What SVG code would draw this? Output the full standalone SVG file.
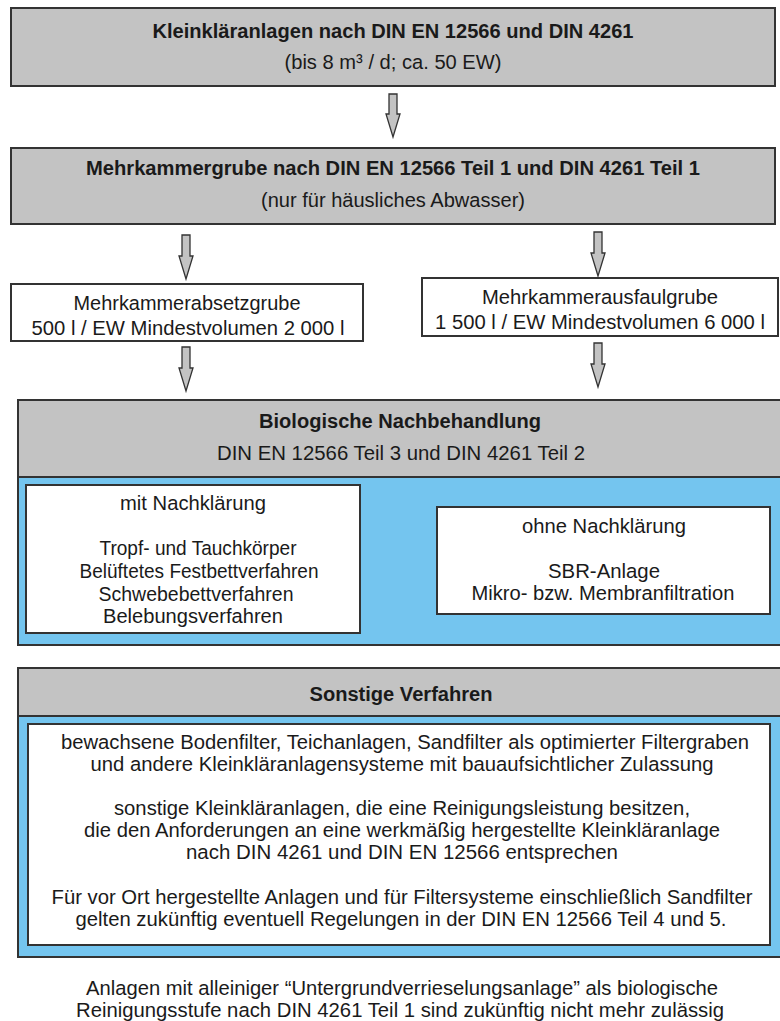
<svg xmlns="http://www.w3.org/2000/svg" width="780" height="1021" viewBox="0 0 780 1021">
<defs>
<style>
.gray{fill:#c3c3c3;stroke:#333;stroke-width:2}
.white{fill:#fff;stroke:#333;stroke-width:2}
.blue{fill:#74c5ef;stroke:#333;stroke-width:2}
.arrow{fill:#c3c3c3;stroke:#333;stroke-width:1.3}
text{font-family:"Liberation Sans",Arial,sans-serif;font-size:20.5px;fill:#1a1a1a;text-anchor:middle}
.b{font-weight:bold;font-size:20px}
</style>
</defs>
<rect width="780" height="1021" fill="#fff"/>
<g id="n1">
<rect class="gray" x="11" y="8" width="764" height="78"/>
<text class="b" x="393" y="38" textLength="481" lengthAdjust="spacingAndGlyphs">Kleinkläranlagen nach DIN EN 12566 und DIN 4261</text>
<text x="393" y="69" textLength="217" lengthAdjust="spacingAndGlyphs">(bis 8 m³ / d; ca. 50 EW)</text>
</g>
<g id="n2">
<rect class="gray" x="11" y="148" width="764" height="76"/>
<text class="b" x="393" y="175" textLength="614" lengthAdjust="spacingAndGlyphs">Mehrkammergrube nach DIN EN 12566 Teil 1 und DIN 4261 Teil 1</text>
<text x="393" y="207" textLength="264" lengthAdjust="spacingAndGlyphs">(nur für häusliches Abwasser)</text>
</g>
<g id="n3">
<rect class="white" x="11" y="284" width="352" height="57"/>
<text x="187" y="310" textLength="227" lengthAdjust="spacingAndGlyphs">Mehrkammerabsetzgrube</text>
<text x="188" y="335" textLength="313" lengthAdjust="spacingAndGlyphs">500 l / EW Mindestvolumen 2 000 l</text>
</g>
<g id="n4">
<rect class="white" x="422" y="278" width="356" height="58"/>
<text x="600" y="304" textLength="236" lengthAdjust="spacingAndGlyphs">Mehrkammerausfaulgrube</text>
<text x="600" y="329" textLength="330" lengthAdjust="spacingAndGlyphs">1 500 l / EW Mindestvolumen 6 000 l</text>
</g>
<g id="n5">
<rect class="gray" x="18" y="400" width="770" height="77"/>
<rect class="blue" x="18" y="477" width="770" height="168"/>
<text class="b" x="400" y="428" textLength="282" lengthAdjust="spacingAndGlyphs">Biologische Nachbehandlung</text>
<text x="401" y="460" textLength="368" lengthAdjust="spacingAndGlyphs">DIN EN 12566 Teil 3 und DIN 4261 Teil 2</text>
</g>
<g id="n6">
<rect class="white" x="26" y="485" width="334" height="148"/>
<text x="193" y="510" textLength="146" lengthAdjust="spacingAndGlyphs">mit Nachklärung</text>
<text x="198" y="555" textLength="197" lengthAdjust="spacingAndGlyphs">Tropf- und Tauchkörper</text>
<text x="199" y="578" textLength="239" lengthAdjust="spacingAndGlyphs">Belüftetes Festbettverfahren</text>
<text x="196" y="601" textLength="195" lengthAdjust="spacingAndGlyphs">Schwebebettverfahren</text>
<text x="193" y="623" textLength="180" lengthAdjust="spacingAndGlyphs">Belebungsverfahren</text>
</g>
<g id="n7">
<rect class="white" x="437" y="507" width="333" height="107"/>
<text x="604" y="533" textLength="164" lengthAdjust="spacingAndGlyphs">ohne Nachklärung</text>
<text x="604" y="578" textLength="112" lengthAdjust="spacingAndGlyphs">SBR-Anlage</text>
<text x="603" y="600" textLength="263" lengthAdjust="spacingAndGlyphs">Mikro- bzw. Membranfiltration</text>
</g>
<g id="n8">
<rect class="gray" x="18" y="668" width="770" height="48"/>
<rect class="blue" x="18" y="716" width="770" height="241"/>
<text class="b" x="401" y="701" textLength="183" lengthAdjust="spacingAndGlyphs">Sonstige Verfahren</text>
</g>
<g id="n9">
<rect class="white" x="28" y="724" width="742" height="221"/>
<text x="405" y="749" textLength="688" lengthAdjust="spacingAndGlyphs">bewachsene Bodenfilter, Teichanlagen, Sandfilter als optimierter Filtergraben</text>
<text x="402" y="771" textLength="623" lengthAdjust="spacingAndGlyphs">und andere Kleinkläranlagensysteme mit bauaufsichtlicher Zulassung</text>
<text x="402" y="815" textLength="576" lengthAdjust="spacingAndGlyphs">sonstige Kleinkläranlagen, die eine Reinigungsleistung besitzen,</text>
<text x="402" y="837" textLength="636" lengthAdjust="spacingAndGlyphs">die den Anforderungen an eine werkmäßig hergestellte Kleinkläranlage</text>
<text x="402" y="859" textLength="432" lengthAdjust="spacingAndGlyphs">nach  DIN 4261 und DIN EN 12566 entsprechen</text>
<text x="402" y="904" textLength="701" lengthAdjust="spacingAndGlyphs">Für vor Ort hergestellte Anlagen und für Filtersysteme einschließlich Sandfilter</text>
<text x="401" y="926" textLength="651" lengthAdjust="spacingAndGlyphs">gelten zukünftig eventuell Regelungen in der DIN EN 12566 Teil 4 und 5.</text>
</g>
<g id="n10">
<text x="402" y="995" textLength="632" lengthAdjust="spacingAndGlyphs">Anlagen mit alleiniger “Untergrundverrieselungsanlage” als biologische</text>
<text x="400" y="1017" textLength="648" lengthAdjust="spacingAndGlyphs">Reinigungsstufe  nach DIN 4261 Teil 1 sind zukünftig nicht mehr zulässig</text>
</g>
<g id="connectors">
<path class="arrow" d="M389,94 L397,94 L397,114 L400,114 L393,137 L386,114 L389,114 Z"/>
<path class="arrow" d="M182,235 L190,235 L190,256 L193,256 L186,279 L179,256 L182,256 Z"/>
<path class="arrow" d="M594,232 L602,232 L602,253 L605,253 L598,276 L591,253 L594,253 Z"/>
<path class="arrow" d="M182,347 L190,347 L190,368 L193,368 L186,391 L179,368 L182,368 Z"/>
<path class="arrow" d="M594,343 L602,343 L602,364 L605,364 L598,387 L591,364 L594,364 Z"/>
</g>
</svg>
